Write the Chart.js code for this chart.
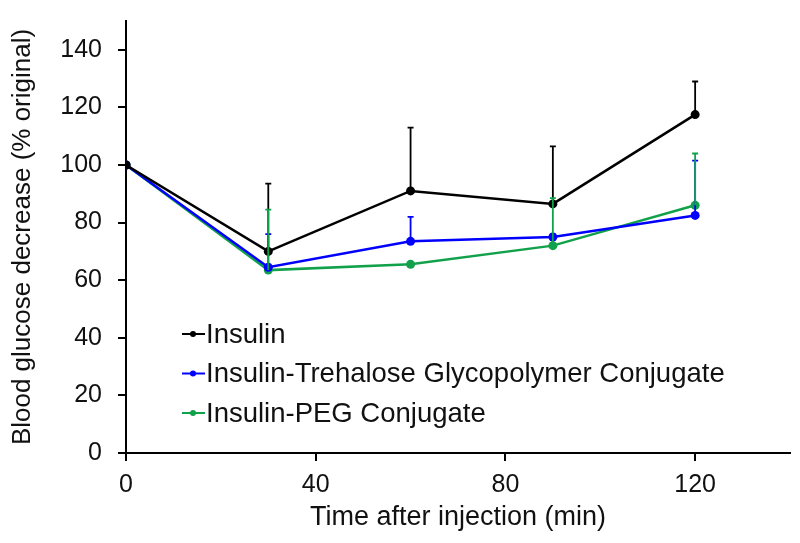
<!DOCTYPE html>
<html>
<head>
<meta charset="utf-8">
<script src="https://cdn.jsdelivr.net/npm/chart.js@4/dist/chart.umd.min.js"></script>
<style>
  html, body { margin: 0; padding: 0; background: #fff; }
  #wrap { width: 800px; height: 543px; }
</style>
</head>
<body>
<div id="wrap"><canvas id="chart"></canvas></div>
<script>
// data
const times = [0, 30, 60, 90, 120];
const seriesNames = ['Insulin', 'Insulin-Trehalose Glycopolymer Conjugate', 'Insulin-PEG Conjugate'];
const insulin = [100, 70, 91, 86.5, 117.5];
const insulinErr = [0, 23.5, 22, 20, 11.5];
const trehalose = [100, 64.5, 73.5, 75, 82.5];
const trehaloseErr = [0, 11.5, 8.5, 1, 19];
const peg = [100, 63.5, 65.5, 72, 86];
const pegErr = [0, 21, 0, 16.5, 18];
const yTicks = [0, 20, 40, 60, 80, 100, 120, 140];
const xTicks = [0, 40, 80, 120];

const colors = ['#000000', '#0000ff', '#12a14b'];
const FONT = 'Liberation Sans, Arial, sans-serif';

function toPoints(vals) {
    return times.map((t, i) => ({ x: t, y: vals[i] }));
}

// upward-only error bars, drawn through the chart scales
const errorBars = {
    id: 'errorBars',
    afterDatasetsDraw(chart) {
        const ctx = chart.ctx;
        const xs = chart.scales.x, ys = chart.scales.y;
        chart.data.datasets.forEach((ds, di) => {
            ctx.save();
            ctx.strokeStyle = ds.borderColor;
            ctx.lineWidth = 1.8;
            ds.data.forEach((p, i) => {
                const e = ds.errors[i];
                if (!e) return;
                const px = xs.getPixelForValue(p.x);
                const y0 = ys.getPixelForValue(p.y);
                const y1 = ys.getPixelForValue(p.y + e);
                ctx.beginPath();
                ctx.moveTo(px, y0);
                ctx.lineTo(px, y1);
                ctx.moveTo(px - 3, y1);
                ctx.lineTo(px + 3, y1);
                ctx.stroke();
            });
            ctx.restore();
        });
    }
};

// legend inside the plot, lower left
const innerLegend = {
    id: 'innerLegend',
    afterDraw(chart) {
        const ctx = chart.ctx;
        ctx.save();
        ctx.font = '27.5px ' + FONT;
        ctx.textBaseline = 'middle';
        chart.data.datasets.forEach((ds, i) => {
            const y = 334 + i * 39.5;
            ctx.strokeStyle = ds.borderColor;
            ctx.fillStyle = ds.borderColor;
            ctx.lineWidth = 2;
            ctx.beginPath();
            ctx.moveTo(182, y);
            ctx.lineTo(205, y);
            ctx.stroke();
            ctx.beginPath();
            ctx.arc(193, y, 3, 0, Math.PI * 2);
            ctx.fill();
            ctx.fillStyle = '#111';
            ctx.fillText(ds.label, 206, y + 1);
        });
        ctx.restore();
    }
};

const datasets = [insulin, trehalose, peg].map((vals, i) => ({
    label: seriesNames[i],
    data: toPoints(vals),
    errors: [insulinErr, trehaloseErr, pegErr][i],
    borderColor: colors[i],
    backgroundColor: colors[i],
    borderWidth: 2.5,
    pointRadius: 4.5,
    pointBackgroundColor: colors[i],
    pointBorderWidth: 0,
    tension: 0
}));

new Chart(document.getElementById('chart'), {
    type: 'line',
    data: { datasets: datasets },
    plugins: [errorBars, innerLegend],
    options: {
        responsive: true,
        maintainAspectRatio: false,
        animation: false,
        layout: { padding: { top: 21, right: 10, left: 0, bottom: 0 } },
        plugins: {
            legend: { display: false },
            tooltip: { enabled: false }
        },
        scales: {
            x: {
                type: 'linear',
                min: 0,
                max: 140,
                afterBuildTicks: axis => { axis.ticks = xTicks.map(v => ({ value: v })); },
                afterFit: axis => { axis.height = 90; axis.paddingLeft = 0; axis.paddingRight = 0; },
                grid: { display: true, drawOnChartArea: false, drawTicks: true, tickLength: 8, color: '#000', lineWidth: 2 },
                border: { display: true, color: '#000', width: 2 },
                ticks: { color: '#111', font: { family: FONT, size: 25 }, padding: 9, maxRotation: 0 },
                title: { display: true, text: 'Time after injection (min)', color: '#111', font: { family: FONT, size: 27 }, padding: { top: 0, bottom: 9 } }
            },
            y: {
                min: 0,
                max: 150,
                afterBuildTicks: axis => { axis.ticks = yTicks.map(v => ({ value: v })); },
                afterFit: axis => { axis.width = 126; axis.paddingTop = 0; axis.paddingBottom = 0; },
                grid: { display: true, drawOnChartArea: false, drawTicks: true, tickLength: 8, color: '#000', lineWidth: 2 },
                border: { display: true, color: '#000', width: 2 },
                ticks: { color: '#111', font: { family: FONT, size: 25 }, padding: 16 },
                title: { display: true, text: 'Blood glucose decrease (% original)', color: '#111', font: { family: FONT, size: 26 }, padding: { top: 7, bottom: 0 } }
            }
        }
    }
});
</script>
</body>
</html>
